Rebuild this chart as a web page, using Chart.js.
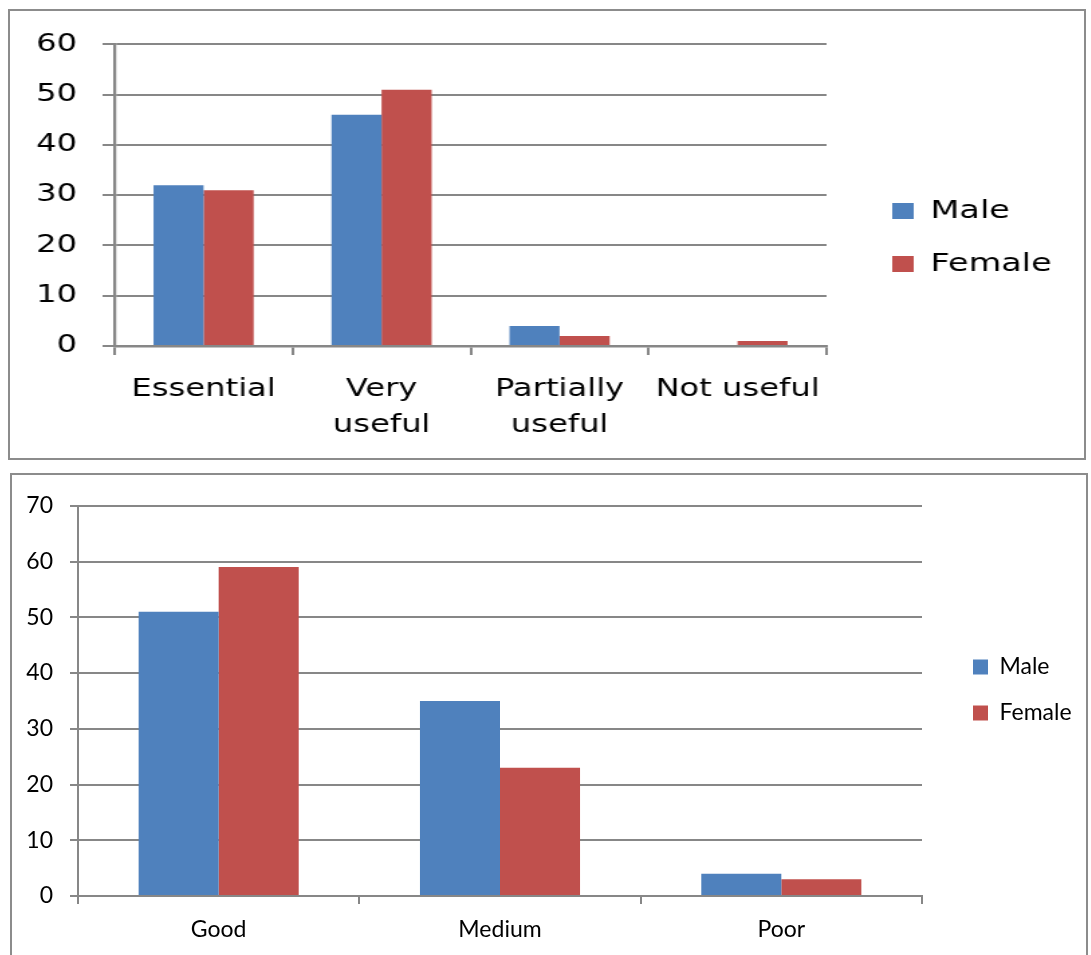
<!DOCTYPE html>
<html>
<head>
<meta charset="utf-8">
<script src="https://cdn.jsdelivr.net/npm/chart.js@4.4.1/dist/chart.umd.min.js"></script>
<style>
  html, body { margin: 0; padding: 0; background: #ffffff; }
  body { width: 1091px; height: 955px; position: relative; overflow: hidden; }
  .frame { position: absolute; border: 2px solid #8c8c8c; background: #ffffff; overflow: hidden; }
  #frameUse { left: 8px; top: 9px; width: 1074px; height: 447px; }
  #frameRate { left: 10px; top: 473px; width: 1074px; height: 480px; }
  canvas { display: block; }
  /* the upper chart uses a horizontally widened lettering */
  #useChart { transform: scaleX(1.3408); transform-origin: 0 0; }
</style>
</head>
<body>
<div class="frame" id="frameUse"><canvas id="useChart" width="801" height="447"></canvas></div>
<div class="frame" id="frameRate"><canvas id="rateChart" width="1074" height="480"></canvas></div>
<script>
// Usefulness of the course, by gender
const usefulnessCategories = ['Essential', ['Very', 'useful'], ['Partially', 'useful'], 'Not useful'];
const usefulnessMale = [32, 46, 4, 0];
const usefulnessFemale = [31, 51, 2, 1];
const usefulnessTickMax = 60;
const usefulnessTickStep = 10;

// Overall rating, by gender
const ratingCategories = ['Good', 'Medium', 'Poor'];
const ratingMale = [51, 35, 4];
const ratingFemale = [59, 23, 3];
const ratingTickMax = 70;
const ratingTickStep = 10;

const seriesNames = ['Male', 'Female'];
const BLUE = '#4f81bd';
const RED = '#c0504d';
const GRID = '#878787';

// Fixed legend column width plus a small offset of the legend block
const legendPlacement = {
  id: 'legendPlacement',
  afterInit(chart, args, opts) {
    const legend = chart.legend;
    const fit = legend.fit.bind(legend);
    legend.fit = function () { fit(); this.width = opts.width; };
  },
  afterLayout(chart, args, opts) {
    const lg = chart.legend;
    lg.left += opts.dx; lg.right += opts.dx;
    lg.top += opts.dy; lg.bottom += opts.dy;
  }
};

function makeChart(id, cfg) {
  return new Chart(document.getElementById(id), {
    type: 'bar',
    data: {
      labels: cfg.labels,
      datasets: [
        { label: seriesNames[0], data: cfg.male, backgroundColor: BLUE, borderWidth: 0 },
        { label: seriesNames[1], data: cfg.female, backgroundColor: RED, borderWidth: 0 }
      ]
    },
    options: {
      responsive: false,
      animation: false,
      events: [],
      datasets: { bar: { categoryPercentage: cfg.catPct, barPercentage: 1 } },
      layout: { padding: { top: cfg.padTop, right: 0, bottom: 0, left: 0 } },
      scales: {
        x: {
          grid: { drawOnChartArea: false, drawTicks: true, tickLength: cfg.xTick, color: GRID, lineWidth: cfg.xTickW },
          border: { color: GRID, width: cfg.xAxisW },
          ticks: { color: '#000', font: cfg.xFont, padding: cfg.xPad, autoSkip: false, maxRotation: 0 },
          afterFit(scale) { scale.height = cfg.xHeight; }
        },
        y: {
          min: 0, max: cfg.yMax,
          grid: { color: GRID, lineWidth: cfg.gridW, tickLength: cfg.yTick, drawTicks: true },
          border: { color: GRID, width: cfg.yAxisW },
          ticks: { stepSize: cfg.yStep, color: '#000', font: cfg.yFont, padding: cfg.yPad },
          afterFit(scale) { scale.width = cfg.yWidth; }
        }
      },
      plugins: {
        tooltip: { enabled: false },
        title: { display: false },
        legend: {
          position: 'right',
          align: 'center',
          labels: {
            color: '#000',
            font: cfg.legendFont,
            boxWidth: cfg.boxW,
            boxHeight: cfg.boxH,
            padding: cfg.legendPad
          }
        },
        legendPlacement: cfg.legendPlace
      }
    },
    plugins: [legendPlacement]
  });
}

const wideFamily = "'DejaVu Sans', sans-serif";
const plainFamily = "Lato, sans-serif";

makeChart('useChart', {
  labels: usefulnessCategories,
  male: usefulnessMale,
  female: usefulnessFemale,
  yMax: usefulnessTickMax,
  yStep: usefulnessTickStep,
  catPct: 0.5626,
  padTop: 30,
  xTick: 9, yTick: 9,
  gridW: 2, xTickW: 2, xAxisW: 2.5, yAxisW: 2.2,
  xFont: { family: wideFamily, size: 24, lineHeight: 1.5 },
  yFont: { family: wideFamily, size: 24 },
  xPad: 17, yPad: 19,
  xHeight: 112, yWidth: 78,
  legendFont: { family: wideFamily, size: 25 },
  boxW: 16, boxH: 16, legendPad: 28,
  legendPlace: { width: 192, dx: 21, dy: -12 }
});

makeChart('rateChart', {
  labels: ratingCategories,
  male: ratingMale,
  female: ratingFemale,
  yMax: ratingTickMax,
  yStep: ratingTickStep,
  catPct: 0.569,
  padTop: 28,
  xTick: 8, yTick: 8,
  gridW: 2, xTickW: 2, xAxisW: 2, yAxisW: 2,
  xFont: { family: plainFamily, size: 23, lineHeight: 1.2 },
  yFont: { family: plainFamily, size: 23 },
  xPad: 12, yPad: 17,
  xHeight: 59, yWidth: 66,
  legendFont: { family: plainFamily, size: 23 },
  boxW: 15, boxH: 15, legendPad: 23,
  legendPlace: { width: 164, dx: 28, dy: -39 }
});
</script>
</body>
</html>
